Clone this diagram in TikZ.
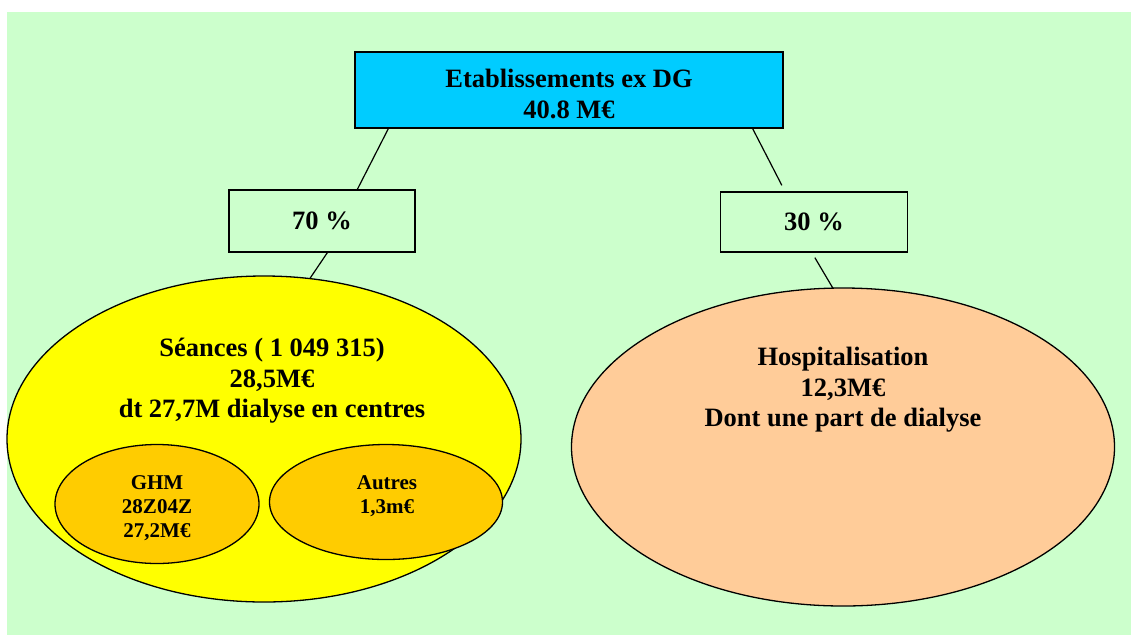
\documentclass[tikz,border=0pt]{standalone}
\usepackage{fontspec}
\setmainfont{Liberation Serif}
\usetikzlibrary{shapes.geometric}
\definecolor{bggreen}{HTML}{CCFFCC}
\definecolor{topblue}{HTML}{00CCFF}
\definecolor{seanceyellow}{HTML}{FFFF00}
\definecolor{subgold}{HTML}{FFCC00}
\definecolor{hosppeach}{HTML}{FFCC99}
\tikzset{
  boxnode/.style={draw=black, line width=1.3pt, rectangle, inner sep=0pt, align=center,
    font=\fontsize{26.5}{30}\selectfont\bfseries},
  ellnode/.style={draw=black, line width=1.3pt, ellipse, inner sep=0pt},
  bigtext/.style={align=center, inner sep=0pt, font=\fontsize{26.5}{30.5}\selectfont\bfseries},
  smalltext/.style={align=center, inner sep=0pt, font=\fontsize{21}{24}\selectfont\bfseries},
  link/.style={draw=black, line width=1.2pt}
}
\begin{document}
\begin{tikzpicture}[x=1pt,y=-1pt]
\useasboundingbox (0,0) rectangle (1131,635);
\fill[bggreen] (7,12) rectangle (1131,635);
% top box
\node[boxnode, fill=topblue, minimum width=428pt, minimum height=76pt] (top) at (569,90) {};
\node[bigtext] (toptext) at (569,94) {Etablissements ex DG\\40.8 M€};
% percentage boxes
\node[boxnode, fill=bggreen, minimum width=186pt, minimum height=62pt] (p70) at (322,221) {70 \%};
\node[boxnode, fill=bggreen, minimum width=187pt, minimum height=60pt] (p30) at (814,222) {30 \%};
% ellipses
\node[ellnode, fill=seanceyellow, minimum width=514pt, minimum height=326pt] (seances) at (264,439) {};
\node[ellnode, fill=subgold, minimum width=204pt, minimum height=119pt] (ghm) at (157,504) {};
\node[ellnode, fill=subgold, minimum width=233pt, minimum height=115pt] (autres) at (386,502) {};
\node[ellnode, fill=hosppeach, minimum width=543pt, minimum height=318pt] (hosp) at (843,447) {};
% texts
\node[bigtext] (seancestext) at (272,381) {Séances ( 1 049 315)\\28,5M€\\dt 27,7M dialyse en centres};
\node[bigtext] (hosptext) at (843,390) {Hospitalisation\\12,3M€\\Dont une part de dialyse};
\node[smalltext] (ghmtext) at (157,508) {GHM\\28Z04Z\\27,2M€};
\node[smalltext] (autrestext) at (387,496) {Autres\\1,3m€};
% connectors
\draw[link] ([xshift=34pt]top.south west) -- ([xshift=129pt]p70.north west);
\draw[link] ([xshift=99pt]p70.south west) -- ([xshift=46pt,yshift=-3pt]seances.north);
\draw[link] ([xshift=-31pt]top.south east) -- ([xshift=62pt,yshift=6pt]p30.north west);
\draw[link] ([xshift=95pt,yshift=-5pt]p30.south west) -- ([xshift=-10pt,yshift=-1pt]hosp.north);
\end{tikzpicture}
\end{document}
